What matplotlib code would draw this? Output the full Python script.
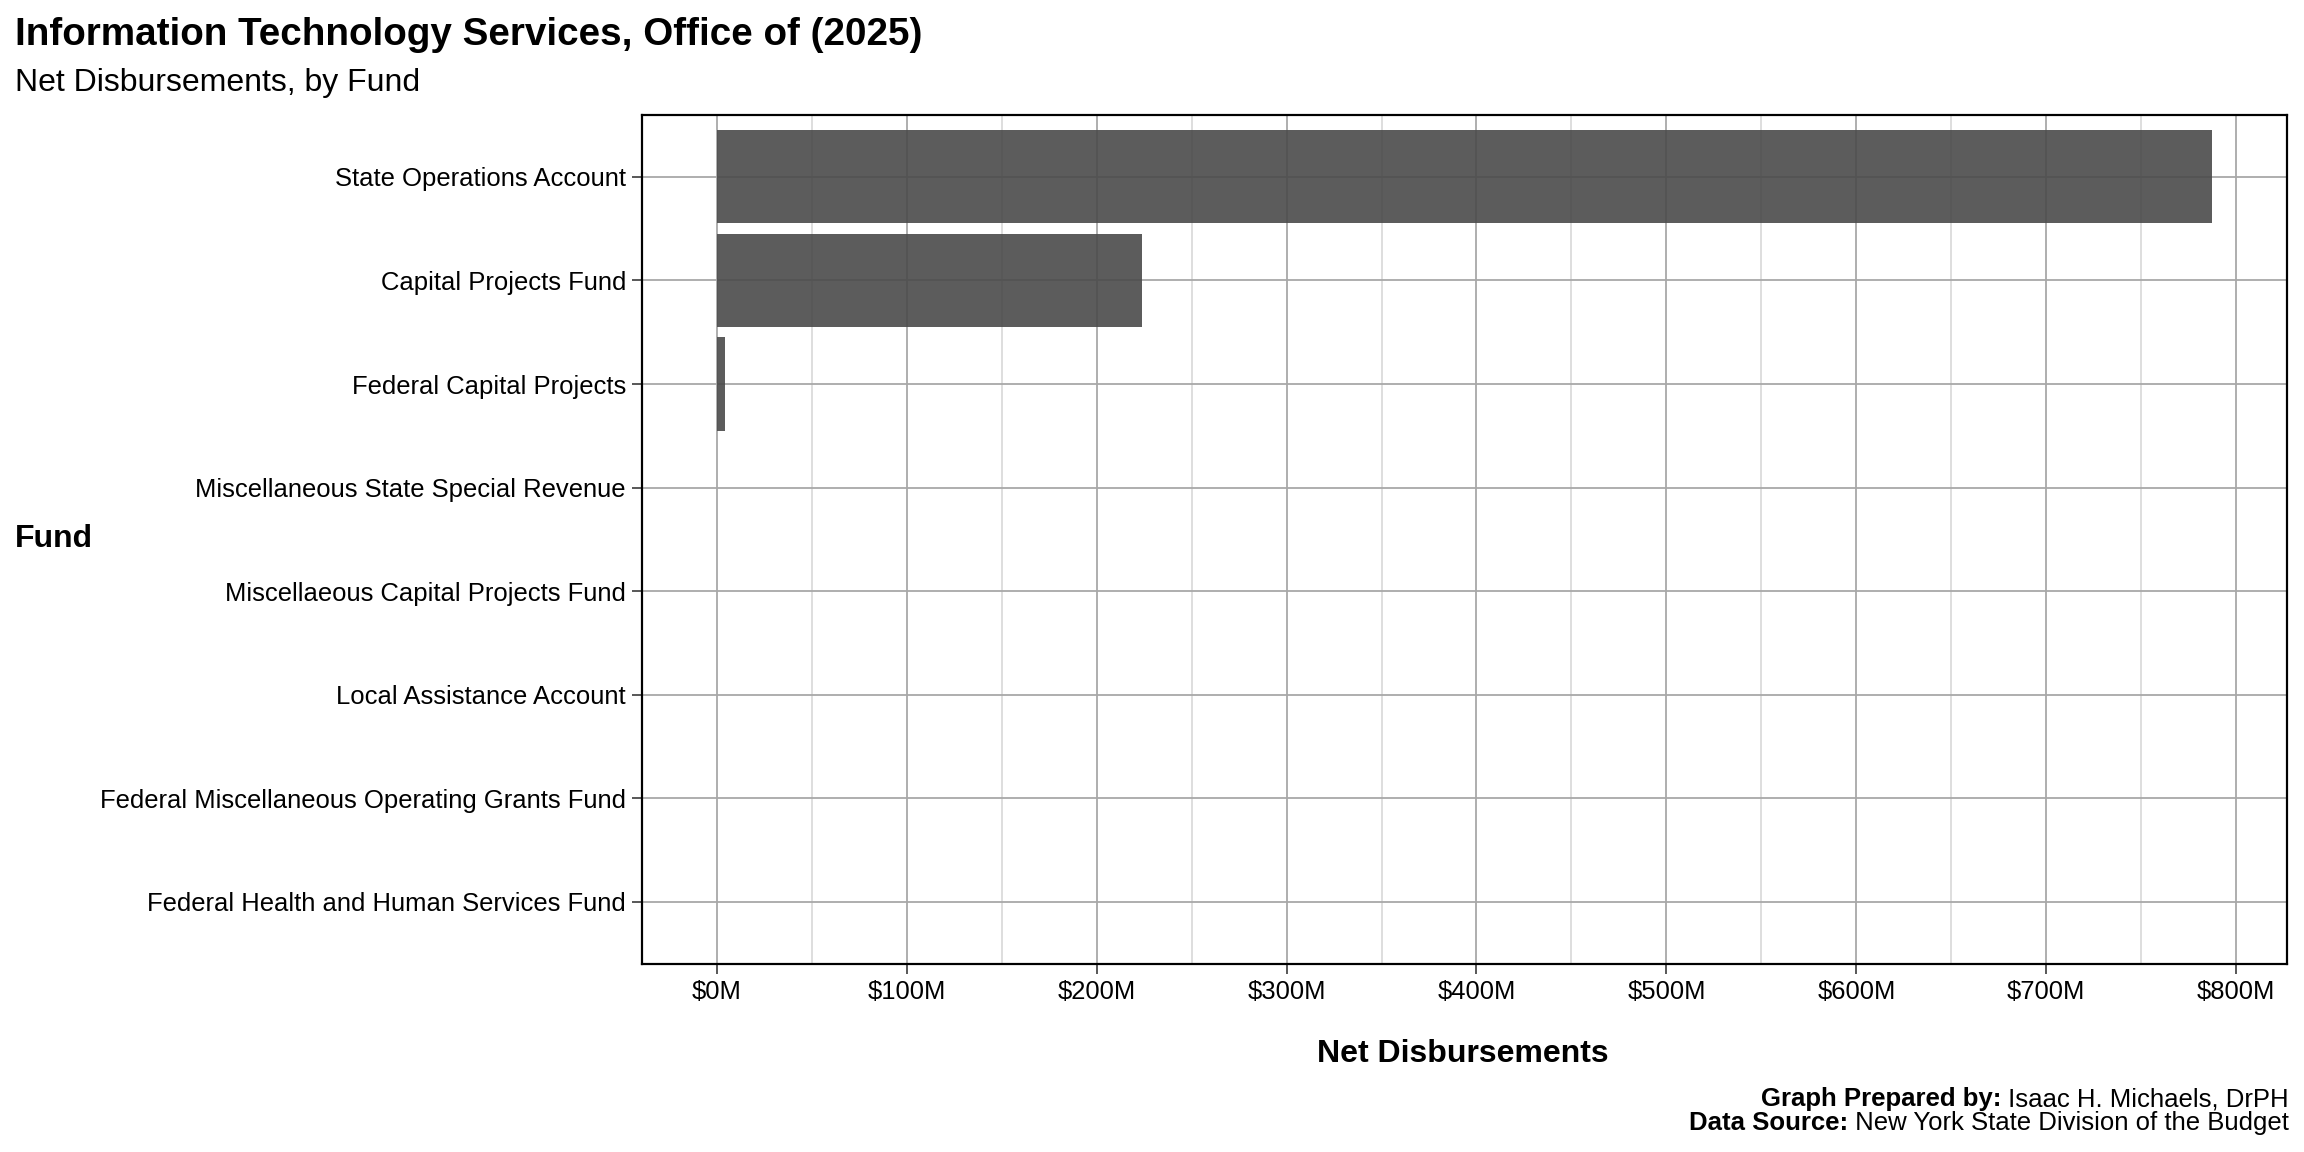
import matplotlib
matplotlib.use("Agg")
import matplotlib.pyplot as plt
from matplotlib.ticker import FuncFormatter, MultipleLocator

plt.rcParams["font.family"] = ["Liberation Sans", "DejaVu Sans"]

funds = [
    "State Operations Account",
    "Capital Projects Fund",
    "Federal Capital Projects",
    "Miscellaneous State Special Revenue",
    "Miscellaeous Capital Projects Fund",
    "Local Assistance Account",
    "Federal Miscellaneous Operating Grants Fund",
    "Federal Health and Human Services Fund",
]
# net disbursements, millions of dollars
disbursements = [787.3, 224.0, 4.5, 0.3, 0.2, 0.1, 0.05, 0.01]

fig = plt.figure(figsize=(16, 8), dpi=144)
ax = fig.add_axes([0.2786, 0.1632, 0.714, 0.7372])

ypos = list(range(len(funds)))[::-1]
ax.barh(ypos, disbursements, height=0.9, color="#4a4a4a", alpha=0.9, zorder=3)

# ggplot style expansion
xmax = max(disbursements)
ax.set_xlim(-0.05 * xmax, 1.05 * xmax)
ax.set_ylim(-0.6, len(funds) - 0.4)

ax.set_yticks(ypos)
ax.set_yticklabels(funds)
ax.xaxis.set_major_locator(MultipleLocator(100))
ax.xaxis.set_minor_locator(MultipleLocator(50))
ax.xaxis.set_major_formatter(FuncFormatter(lambda v, p: f"${v:.0f}M"))

ax.grid(which="major", color="#a8a8a8", linewidth=0.9, zorder=0)
ax.grid(which="minor", axis="x", color="#d6d6d6", linewidth=0.8, zorder=0)
ax.set_axisbelow(True)
for s in ax.spines.values():
    s.set_linewidth(1.1)
    s.set_color("black")

ax.tick_params(axis="both", which="major", labelsize=12.8, length=5, width=0.8, color="#333333", pad=3)
ax.tick_params(axis="x", which="minor", length=0)

# titles
fig.text(0.0065, 0.9606, "Information Technology Services, Office of (2025)",
         fontsize=19.3, fontweight="bold", ha="left", va="baseline")
fig.text(0.0065, 0.9211, "Net Disbursements, by Fund", fontsize=16, ha="left", va="baseline")
fig.text(0.0065, 0.525, "Fund", fontsize=16, fontweight="bold", ha="left", va="baseline")
fig.text(0.635, 0.085, "Net Disbursements", fontsize=16, fontweight="bold", ha="center", va="center")

# caption with bold lead-ins, right aligned
fig.canvas.draw()
renderer = fig.canvas.get_renderer()
xr = 0.9935
for y, lead, rest in [(0.046, "Graph Prepared by:", " Isaac H. Michaels, DrPH"),
                      (0.025, "Data Source:", " New York State Division of the Budget")]:
    t = fig.text(xr, y, rest, fontsize=12.9, ha="right", va="center")
    bb = t.get_window_extent(renderer)
    x0 = fig.transFigure.inverted().transform((bb.x0, 0))[0]
    fig.text(x0, y, lead, fontsize=12.9, fontweight="bold", ha="right", va="center")

fig.savefig("out.png", dpi=144)
